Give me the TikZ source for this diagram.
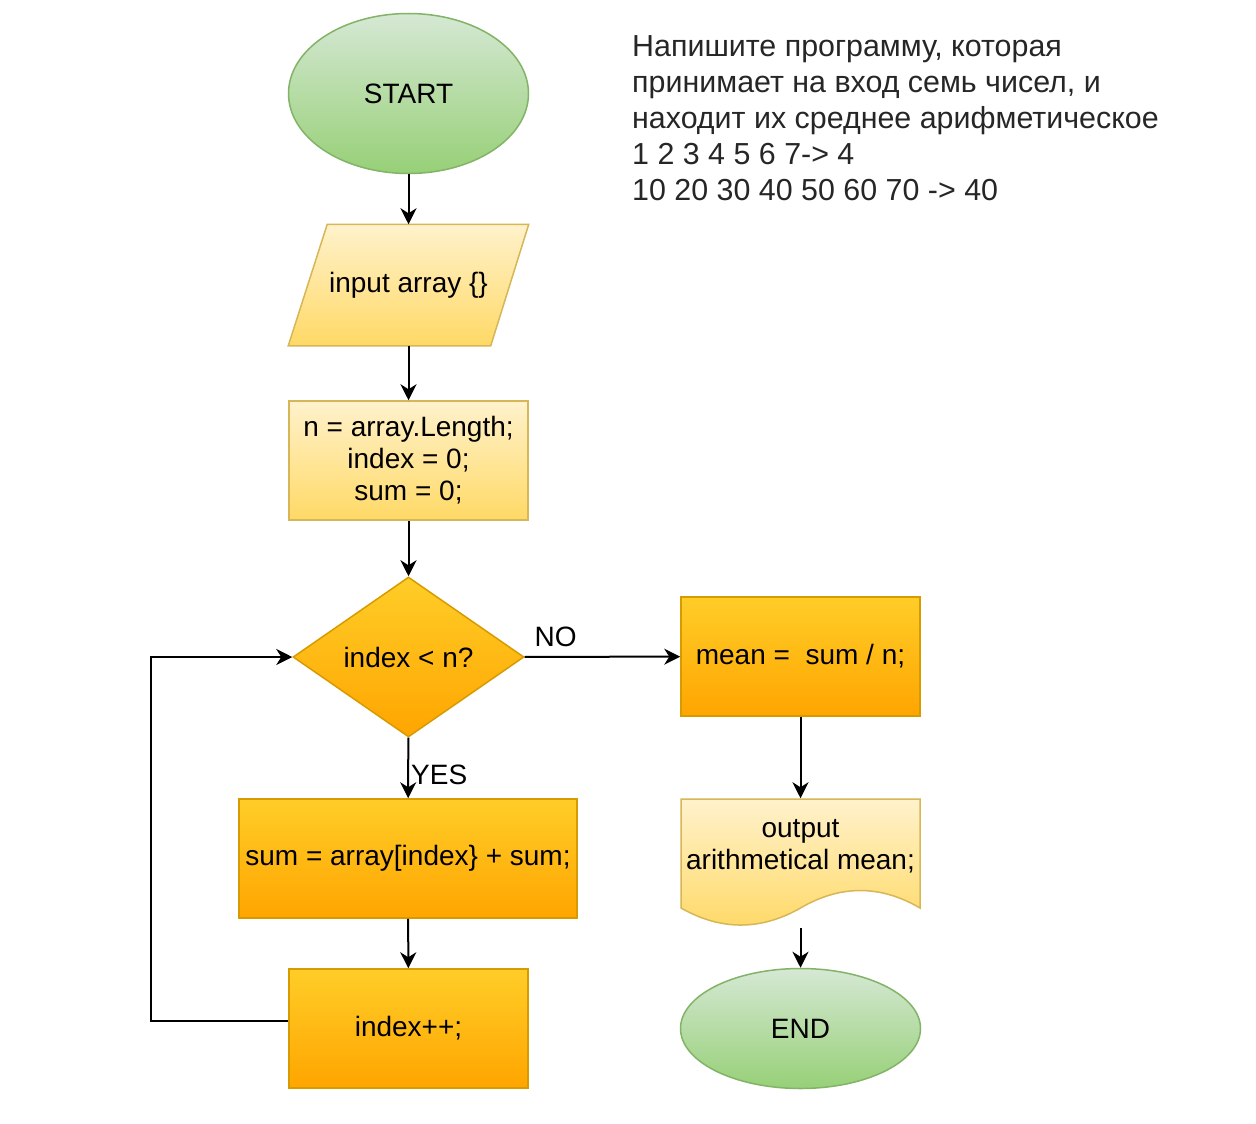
\documentclass[tikz,border=0pt]{standalone}
\usepackage{fontspec}
\setmainfont{Liberation Sans}
\usetikzlibrary{shapes.geometric,arrows.meta,backgrounds,calc}
\definecolor{gtop}{HTML}{D5E8D4}
\definecolor{gbot}{HTML}{97D077}
\definecolor{gline}{HTML}{82B366}
\definecolor{ytop}{HTML}{FFF2CC}
\definecolor{ybot}{HTML}{FFD966}
\definecolor{yline}{HTML}{D6B656}
\definecolor{otop}{HTML}{FFCD28}
\definecolor{obot}{HTML}{FFA500}
\definecolor{oline}{HTML}{D79B00}
\tikzset{
  base/.style={font=\fontsize{28}{32}\selectfont, align=center, inner sep=0pt, line width=1.5pt},
  term/.style={base, ellipse, top color=gtop, bottom color=gbot, draw=gline, minimum width=240pt, minimum height=160pt},
  ybox/.style={base, rectangle, top color=ytop, bottom color=ybot, draw=yline, minimum width=239pt, minimum height=119pt},
  obox/.style={base, rectangle, top color=otop, bottom color=obot, draw=oline, minimum width=239pt, minimum height=119pt},
  decis/.style={base, diamond, top color=otop, bottom color=obot, draw=oline, minimum width=231pt, minimum height=160pt},
  ghost/.style={base, rectangle, draw=none, fill=none},
  arr/.style={line width=2pt, -{Stealth[length=16pt,width=16pt,inset=5pt]}},
  lbl/.style={font=\fontsize{28}{32}\selectfont, inner sep=0pt},
}
\begin{document}
\begin{tikzpicture}[x=1pt,y=-1pt]
\useasboundingbox (0,0) rectangle (1256,1124);

\node[term] (start) at (408.5,93.5) {START};

\node[ghost, minimum width=239pt, minimum height=120pt] (inp) at (408.5,285) {input array \{\}};
\begin{scope}[on background layer]
  \shade[top color=ytop, bottom color=ybot, draw=yline, line width=1.5pt]
    ($(inp.north west)+(39,0)$) -- (inp.north east) -- ($(inp.south east)+(-38,0)$) -- (inp.south west) -- cycle;
\end{scope}

\node[ybox] (init) at (408.5,460.5) {n = array.Length;\\index = 0;\\sum = 0;};

\node[decis] (dec) at (408.5,657) {index < n?};

\node[obox] (mean) at (800.5,656.5) {mean =~~sum / n;};

\node[obox, minimum width=338pt] (sum) at (408,858.5) {sum = array[index\} + sum;};

\node[obox] (inc) at (408.5,1028.5) {index++;};

\node[ghost, minimum width=239pt, minimum height=128pt] (out) at (800.5,863) {};
\node[ghost] (outtxt) at (800.5,846) {output\\arithmetical mean;};
\begin{scope}[on background layer]
  \shade[top color=ytop, bottom color=ybot, draw=yline, line width=1.5pt]
    (681,799) -- (920,799) -- (920,908)
    .. controls (880.2,884.7) and (840.3,884.7) .. (800.5,908)
    .. controls (760.7,930.7) and (720.8,930.7) .. (681,908) -- cycle;
\end{scope}

\node[term, minimum height=120pt] (end) at (800.5,1028.5) {END};

\node[anchor=north west, align=left, inner sep=0pt, font=\fontsize{30.4}{36}\selectfont, text=black!85] (task) at (632,35)
  {Напишите программу, которая\\принимает на вход семь чисел, и\\находит их среднее арифметическое\\1 2 3 4 5 6 7-> 4\\10 20 30 40 50 60 70 -> 40};

\draw[arr] (start) -- (inp);
\draw[arr] (inp) -- (init);
\draw[arr] (init) -- (dec);
\draw[arr] (dec) -- (sum) node[lbl, pos=0.62, anchor=west, xshift=2pt] (yes) {YES};
\draw[arr] (dec) -- (mean) node[lbl, pos=0, anchor=south west, xshift=9pt, yshift=9pt] (no) {NO};
\draw[arr] (sum) -- (inc);
\coordinate (loopx) at (151,1021);
\draw[arr] ([yshift=7.5pt]inc.west) -- (loopx) |- (dec.west);
\draw[arr] (mean) -- (out.north);
\draw[arr] (out.south) -- (end);
\end{tikzpicture}
\end{document}
